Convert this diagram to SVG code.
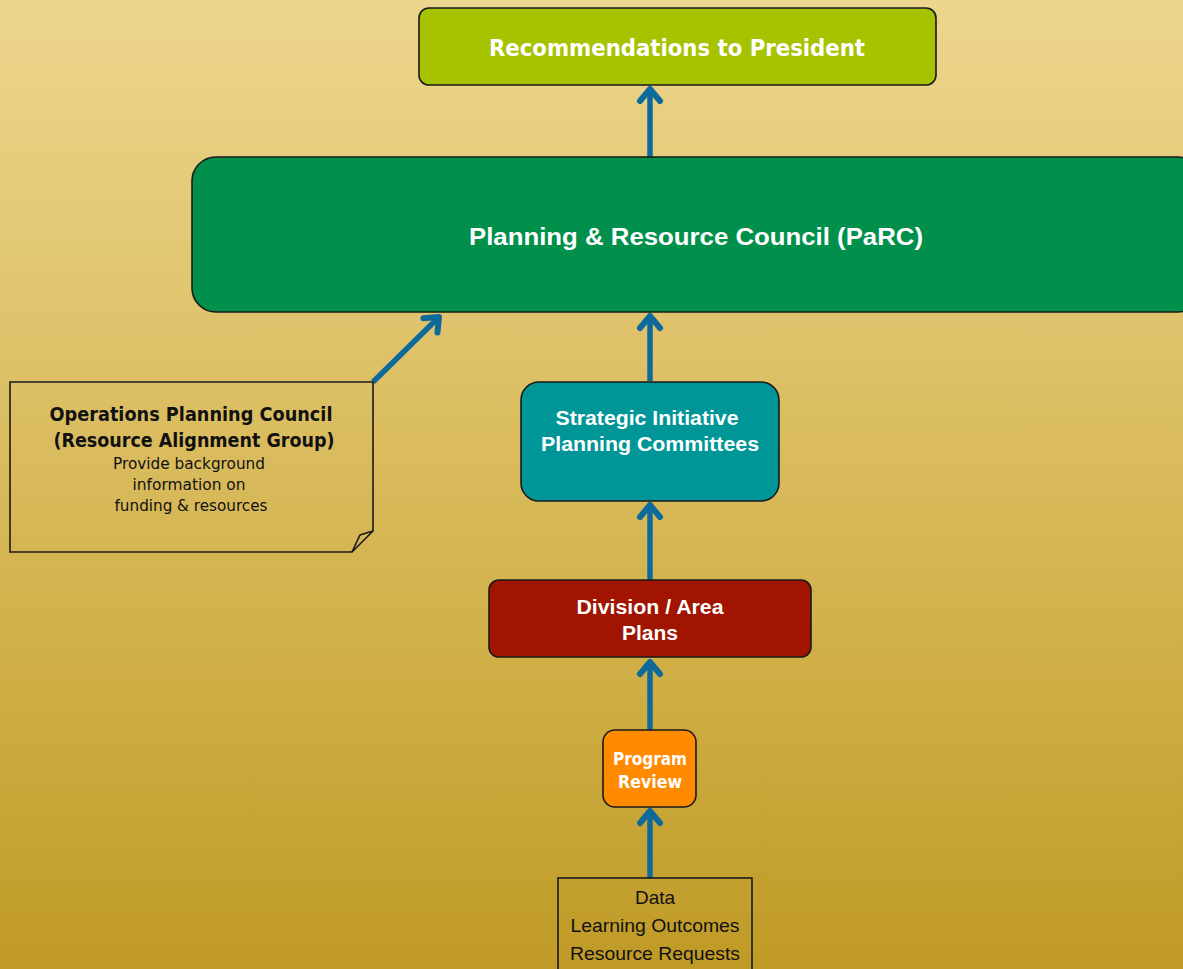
<svg xmlns="http://www.w3.org/2000/svg" width="1183" height="969" viewBox="0 0 1183 969">
<defs>
<linearGradient id="bg" x1="0" y1="0" x2="0" y2="1">
<stop offset="0" stop-color="#ecd68e"/>
<stop offset="0.35" stop-color="#dfc26a"/>
<stop offset="0.7" stop-color="#cfae45"/>
<stop offset="1" stop-color="#bf9a26"/>
</linearGradient>
<marker id="ah" markerUnits="userSpaceOnUse" markerWidth="32" markerHeight="32" refX="16" refY="16" orient="auto" viewBox="0 0 32 32">
<path d="M4,6 L16,16 L4,26" fill="none" stroke="#0f6a9c" stroke-width="6" stroke-linecap="round" stroke-linejoin="round"/>
</marker>
<style>
.box{stroke:#1a1a1a;stroke-width:1.6}
.wt{fill:#fff;font-family:"Liberation Sans",Arial,sans-serif;font-weight:bold;text-anchor:middle}
.dj{fill:#fff;font-family:"DejaVu Sans",Verdana,sans-serif;font-weight:bold;text-anchor:middle}
.bk{fill:#111;font-family:"DejaVu Sans",Verdana,sans-serif;text-anchor:middle}
.ar{fill:#111;font-family:"Liberation Sans",Arial,sans-serif;text-anchor:middle}
.con{stroke:#0f6a9c;stroke-width:5.5;fill:none;marker-end:url(#ah)}
</style>
</defs>
<rect width="1183" height="969" fill="url(#bg)"/>
<g id="connectors">
<line class="con" x1="650" y1="157" x2="650" y2="89"/>
<line class="con" x1="650" y1="381" x2="650" y2="316"/>
<line class="con" x1="650" y1="580" x2="650" y2="505"/>
<line class="con" x1="650" y1="730" x2="650" y2="662"/>
<line class="con" x1="650" y1="878" x2="650" y2="811"/>
<line class="con" x1="373" y1="382" x2="439" y2="317"/>
</g>
<g id="recommendations">
<rect class="box" x="419" y="8" width="517" height="77" rx="10" fill="#a7c300"/>
<text class="dj" x="677" y="56" font-size="23" textLength="376" lengthAdjust="spacingAndGlyphs">Recommendations to President</text>
</g>
<g id="parc">
<rect class="box" x="192" y="157" width="1010" height="155" rx="24" fill="#00904b"/>
<text class="wt" x="696" y="245" font-size="24" textLength="454" lengthAdjust="spacingAndGlyphs">Planning &amp; Resource Council (PaRC)</text>
</g>
<g id="operations">
<path class="box" d="M10,382 H373 V531 L352,552 H10 Z" fill="none"/>
<path class="box" d="M373,531 L360,535 L352,552" fill="none"/>
<text class="bk" x="191" y="421" font-size="19" font-weight="bold" textLength="283" lengthAdjust="spacingAndGlyphs">Operations Planning Council</text>
<text class="bk" x="194" y="447" font-size="19" font-weight="bold" textLength="281" lengthAdjust="spacingAndGlyphs">(Resource Alignment Group)</text>
<text class="bk" x="189" y="469" font-size="15.5" textLength="152" lengthAdjust="spacingAndGlyphs">Provide background</text>
<text class="bk" x="189" y="490" font-size="15.5" textLength="113" lengthAdjust="spacingAndGlyphs">information on</text>
<text class="bk" x="191" y="511" font-size="15.5" textLength="153" lengthAdjust="spacingAndGlyphs">funding &amp; resources</text>
</g>
<g id="strategic">
<rect class="box" x="521" y="382" width="258" height="119" rx="18" fill="#009698"/>
<text class="wt" x="647" y="425" font-size="19.5" textLength="183" lengthAdjust="spacingAndGlyphs">Strategic Initiative</text>
<text class="wt" x="650" y="451" font-size="19.5" textLength="218" lengthAdjust="spacingAndGlyphs">Planning Committees</text>
</g>
<g id="division">
<rect class="box" x="489" y="580" width="322" height="77" rx="10" fill="#a01400"/>
<text class="wt" x="650" y="614" font-size="19.5" textLength="147" lengthAdjust="spacingAndGlyphs">Division / Area</text>
<text class="wt" x="650" y="640" font-size="19.5" textLength="56" lengthAdjust="spacingAndGlyphs">Plans</text>
</g>
<g id="program-review">
<rect class="box" x="603" y="730" width="93" height="77" rx="12" fill="#ff8a00"/>
<text class="dj" x="650" y="765" font-size="17.5" textLength="74" lengthAdjust="spacingAndGlyphs">Program</text>
<text class="dj" x="650" y="788" font-size="17.5" textLength="64" lengthAdjust="spacingAndGlyphs">Review</text>
</g>
<g id="inputs">
<rect class="box" x="558" y="878" width="194" height="100" fill="none"/>
<text class="ar" x="655" y="904" font-size="19">Data</text>
<text class="ar" x="655" y="932" font-size="18.5" textLength="169" lengthAdjust="spacingAndGlyphs">Learning Outcomes</text>
<text class="ar" x="655" y="960" font-size="18.5" textLength="170" lengthAdjust="spacingAndGlyphs">Resource Requests</text>
</g>
</svg>
